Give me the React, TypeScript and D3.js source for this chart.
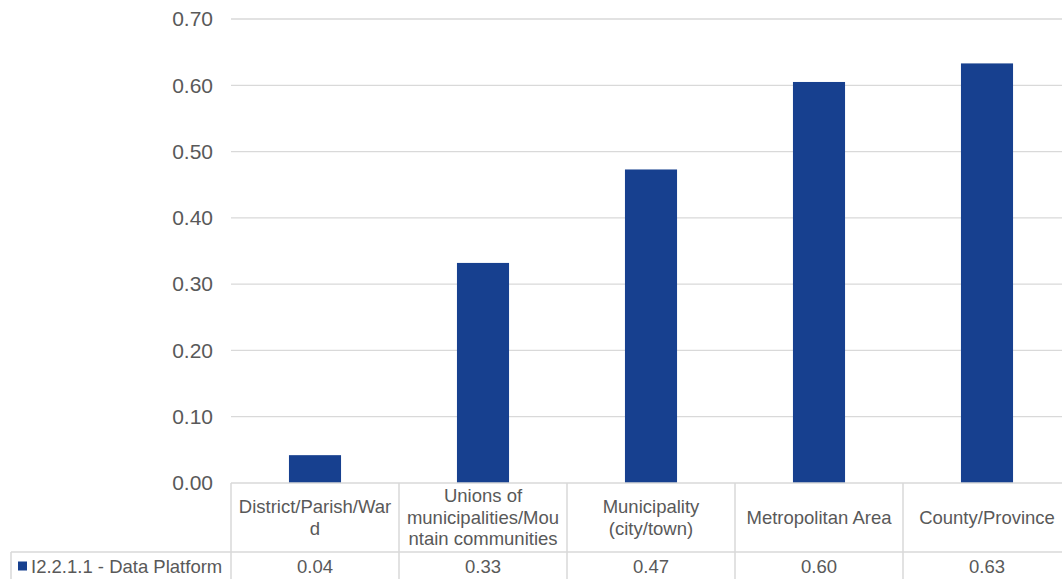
import React from "react";
import * as d3 from "d3";

const categories: string[][] = [
  ["District/Parish/War", "d"],
  ["Unions of", "municipalities/Mou", "ntain communities"],
  ["Municipality", "(city/town)"],
  ["Metropolitan Area"],
  ["County/Province"],
];
const values: number[] = [0.042, 0.332, 0.473, 0.605, 0.633];
const valueLabels: string[] = ["0.04", "0.33", "0.47", "0.60", "0.63"];
const yTicks: number[] = [0, 0.1, 0.2, 0.3, 0.4, 0.5, 0.6, 0.7];
const seriesName = "I2.2.1.1 - Data Platform";

export default function App() {
  const W = 1062, H = 579;
  const left = 231, right = 1071, top = 19, bottom = 483;
  const headerBottom = 552, rowBottom = 590;
  const y = d3.scaleLinear().domain([0, 0.7]).range([bottom, top]);
  const x = d3.scaleBand<number>().domain(d3.range(categories.length)).range([left, right]).paddingInner(0).paddingOuter(0);
  const bw = x.bandwidth() * 0.31;
  const grid = "#d9d9d9";
  const txt = "#595959";
  const font = "'Liberation Sans', Arial, sans-serif";
  const rowMid = 566.5;
  return (
    <svg width={W} height={H} style={{ position: "absolute", left: 0, top: 0, background: "#fff" }} fontFamily={font}>
      {yTicks.map((t) => (
        <g key={t}>
          {t > 0 && <line x1={left} x2={right} y1={y(t)} y2={y(t)} stroke={grid} strokeWidth={1.3} />}
          <text x={213} y={y(t)} dy="0.35em" textAnchor="end" fontSize={21} fill={txt}>{t.toFixed(2)}</text>
        </g>
      ))}
      {values.map((v, i) => (
        <rect key={i} x={x(i)! + x.bandwidth() / 2 - bw / 2} y={y(v)} width={bw} height={bottom - y(v)} fill="#17408F" />
      ))}
      <line x1={left} x2={right} y1={bottom} y2={bottom} stroke={grid} strokeWidth={1.5} />
      <line x1={11} x2={right} y1={headerBottom} y2={headerBottom} stroke={grid} strokeWidth={1.5} />
      <line x1={11} x2={11} y1={headerBottom} y2={rowBottom} stroke={grid} strokeWidth={1.5} />
      {d3.range(categories.length).map((i) => {
        const xx = x(i)!;
        return <line key={i} x1={xx} x2={xx} y1={bottom} y2={rowBottom} stroke={grid} strokeWidth={1.5} />;
      })}
      {categories.map((lines, i) => {
        const cx = x(i)! + x.bandwidth() / 2;
        const lh = 21.5;
        const cy = (bottom + headerBottom) / 2 - ((lines.length - 1) * lh) / 2;
        return (
          <text key={i} textAnchor="middle" fontSize={18.5} fill={txt}>
            {lines.map((l, j) => (
              <tspan key={j} x={cx} y={cy + j * lh} dy="0.35em">{l}</tspan>
            ))}
          </text>
        );
      })}
      {valueLabels.map((l, i) => (
        <text key={i} x={x(i)! + x.bandwidth() / 2} y={rowMid} dy="0.35em" textAnchor="middle" fontSize={18.5} fill={txt}>{l}</text>
      ))}
      <rect x={18} y={561.5} width={9} height={9} fill="#17408F" />
      <text x={31} y={rowMid} dy="0.35em" fontSize={18.5} fill={txt}>{seriesName}</text>
    </svg>
  );
}
